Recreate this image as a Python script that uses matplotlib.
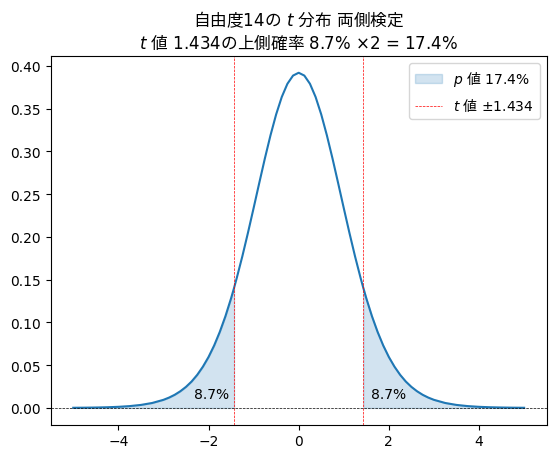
import matplotlib
matplotlib.use("Agg")
import matplotlib.pyplot as plt

plt.rcParams['font.family'] = ['DejaVu Sans', 'Noto Sans CJK JP']
# mathtext: italic letters from DejaVu, \mathrm{} pieces carry the Japanese text
plt.rcParams['mathtext.fontset'] = 'custom'
plt.rcParams['mathtext.rm'] = 'Noto Sans CJK JP'
plt.rcParams['mathtext.it'] = 'DejaVu Sans:italic'
plt.rcParams['mathtext.bf'] = 'DejaVu Sans:bold'


def jp(s):
    return r'$\mathrm{' + s + '}$'


df = 14
t_value = 1.434
p_one = 8.7
p_two = 17.4

# t distribution (df=14) density, right half
x_right = [0.0, 0.125, 0.25, 0.375, 0.5, 0.625, 0.75, 0.875, 1.0, 1.125, 1.25,
           1.375, 1.434, 1.5, 1.625, 1.75, 1.875, 2.0, 2.125, 2.25, 2.375, 2.5,
           2.625, 2.75, 2.875, 3.0, 3.25, 3.5, 3.75, 4.0, 4.25, 4.5, 4.75, 5.0]
y_right = [0.3919, 0.3886, 0.3790, 0.3636, 0.3432, 0.3188, 0.2917, 0.2629,
           0.2336, 0.2048, 0.1772, 0.1516, 0.1402, 0.1281, 0.1072, 0.0889,
           0.0730, 0.0595, 0.0482, 0.0387, 0.0309, 0.0246, 0.0195, 0.01536,
           0.01208, 0.00946, 0.00578, 0.00351, 0.00213, 0.00129, 0.00078,
           0.00048, 0.00029, 0.00018]

xs = [-v for v in x_right[:0:-1]] + x_right
ys = y_right[:0:-1] + y_right

fig = plt.figure(figsize=(5.56, 4.6), dpi=100)
ax = fig.add_axes([0.0912, 0.0746, 0.892, 0.8015])

ax.plot(xs, ys, color='C0')
ax.fill_between(xs, ys, where=[v <= -t_value for v in xs], color='C0', alpha=0.2,
                label=f'$p$ {jp("値")} {p_two}%')
ax.fill_between(xs, ys, where=[v >= t_value for v in xs], color='C0', alpha=0.2)
ax.axvline(-t_value, color='red', linestyle='--', linewidth=0.5,
           label=f'$t$ {jp("値")} ±{t_value}')
ax.axvline(t_value, color='red', linestyle='--', linewidth=0.5)
ax.axhline(0, color='black', linestyle='--', linewidth=0.5)

ax.text(-t_value - 0.5, 0.008, f'{p_one}%', ha='center', va='bottom')
ax.text(t_value + 0.55, 0.008, f'{p_one}%', ha='center', va='bottom')

line1 = f'{jp("自由度")}{df}{jp("の")} $t$ {jp("分布")} {jp("両側検定")}'
line2 = f'$t$ {jp("値")} {t_value}{jp("の上側確率")} {p_one}% ×2 = {p_two}%'
ax.set_title(line1 + '\n' + line2)
ax.legend()

fig.savefig('out.png', dpi=100)
